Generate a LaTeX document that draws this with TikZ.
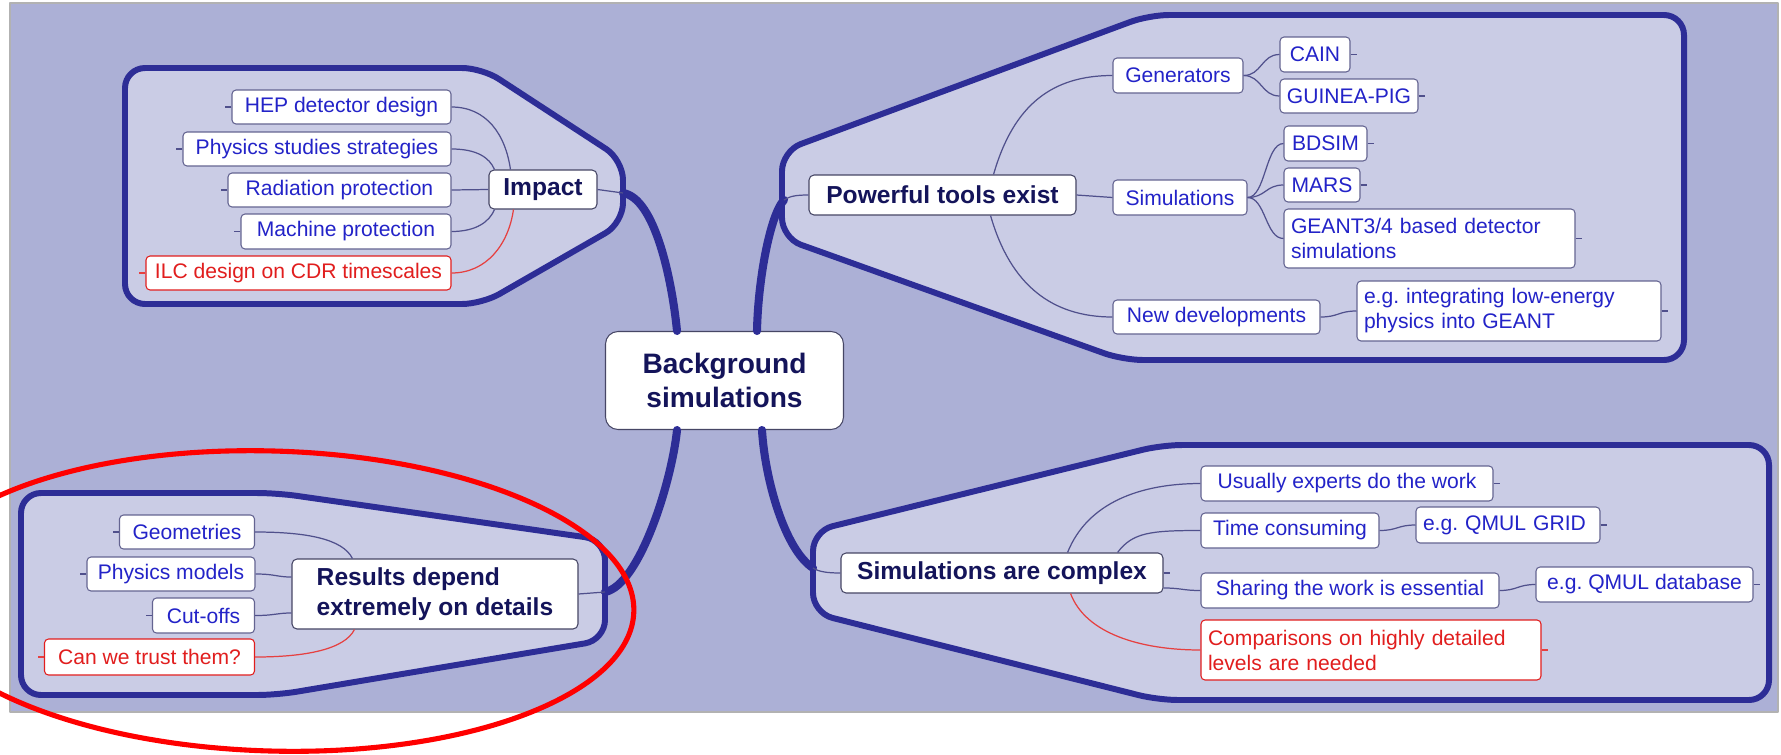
\documentclass[tikz,border=0pt]{standalone}
\usepackage{fontspec}
\setmainfont{Liberation Sans}
\usepackage{xcolor}
\usepackage{tikz}
\frenchspacing
\definecolor{mapbg}{RGB}{172,176,214}
\definecolor{zonefill}{RGB}{202,204,229}
\definecolor{zoneline}{RGB}{45,45,150}
\definecolor{topicink}{RGB}{20,20,90}
\definecolor{leafink}{RGB}{35,35,200}
\definecolor{boxline}{RGB}{100,100,145}
\definecolor{twigline}{RGB}{80,80,140}
\definecolor{alertred}{RGB}{225,30,30}
\tikzset{
    sz/.style 2 args = {minimum width=#1*0.02cm, minimum height=#2*0.02cm},
    wide/.style 2 args = {inner xsep=0.14cm, text width=#1*0.02cm-0.28cm, minimum height=#2*0.02cm},
    mapnode/.style = {rectangle, draw=boxline, fill=white, line width=0.6pt, inner xsep=3pt, inner ysep=2pt},
    leafnode/.style = {mapnode, text=leafink, font=\fontsize{12}{14.2}\selectfont, rounded corners=0.08cm, align=left},
    leafnoder/.style = {leafnode, draw=alertred, text=alertred},
    topicnode/.style = {mapnode, draw=boxline!70!black, text=topicink, font=\fontsize{14}{17}\selectfont\bfseries, rounded corners=0.1cm, align=left},
    hubnode/.style = {mapnode, draw=boxline!70!black, text=topicink, font=\fontsize{16}{19.3}\selectfont\bfseries, rounded corners=0.25cm, align=center},
}

\begin{document}
\begin{tikzpicture}[
	x=0.02cm, y=-0.02cm,
	line join=round
]
\tikzset{
    twign/.style = {draw=twigline, line width=0.7pt},
    twigr/.style = {draw=alertred!85, line width=0.7pt},
    limb/.style = {draw=zoneline, line width=4.6pt, line cap=round},
    zone/.style = {fill=zonefill, draw=zoneline, line width=3.4pt, rounded corners=0.4cm},
    redring/.style = {draw=red, line width=2.9pt}
}
\useasboundingbox (0,0) rectangle (1781,754);
\fill[white] (0,0) rectangle (1781,754);
\filldraw[fill=mapbg, draw=gray!60, line width=0.6pt] (10,3) rectangle (1778,712);
%
\path[zone] (125,68) -- (482,68) -- (623,160) -- (623,223) -- (482,304) -- (125,304) -- cycle;
\path[zone] (782,151) -- (1149,15) -- (1684,15) -- (1684,360) -- (1123,360) -- (782,238) -- cycle;
\path[zone] (21,493) -- (277,493) -- (605,540) -- (605,640) -- (277,695) -- (21,695) -- cycle;
\path[zone] (813,531) -- (1162,445) -- (1769,445) -- (1769,700) -- (1158,700) -- (813,613) -- cycle;
%
\node[hubnode, sz={238}{98}] at (724.5,380.5) (ctr) {Background\\simulations};
%
\node[topicnode, sz={108}{39}] at (543,189.5) (impact) {Impact};
\node[leafnode, sz={219}{34}] at (341.5,107) (hep) {HEP detector design};
\node[leafnode, sz={268}{34}] at (317,149) (phys) {Physics studies strategies};
\node[leafnode, sz={223}{34}] at (339.5,190) (rad) {Radiation protection};
\node[leafnode, sz={210}{35}] at (346,231.5) (mach) {Machine protection};
\node[leafnoder, sz={305}{34}] at (298.5,273) (ilc) {ILC design on CDR timescales};
%
\node[topicnode, sz={286}{70}] at (435,594) (res) {Results depend\\extremely on details};
\node[leafnode, sz={135}{34}] at (187,532) (geo) {Geometries};
\node[leafnode, sz={168}{34}] at (171,574) (pmod) {Physics models};
\node[leafnode, sz={102}{35}] at (203.5,615.5) (cut) {Cut-offs};
\node[leafnoder, sz={210}{36}] at (149.5,657) (trust) {Can we trust them?};
%
\node[topicnode, sz={267}{40}] at (942.5,195) (pow) {Powerful tools exist};
\node[leafnode, sz={130}{35}] at (1178,75.5) (gen) {Generators};
\node[leafnode, sz={134}{35}] at (1180,197.5) (sims) {Simulations};
\node[leafnode, sz={207}{34}] at (1216.5,317) (newdev) {New developments};
\node[leafnode, sz={70}{35}] at (1315,54.5) (cain) {CAIN};
\node[leafnode, sz={138}{34}] at (1349,96) (guinea) {GUINEA-PIG};
\node[leafnode, sz={83}{35}] at (1325.5,143.5) (bdsim) {BDSIM};
\node[leafnode, sz={76}{34}] at (1322,185) (mars) {MARS};
\node[leafnode, wide={291}{59}] at (1429.5,238.5) (geant) {GEANT3/4 based detector\\simulations};
\node[leafnode, wide={304}{60}] at (1509,311) (integ) {e.g. integrating low-energy\\physics into GEANT};
%
\node[topicnode, sz={322}{40}] at (1002,573) (sc) {Simulations are complex};
\node[leafnode, sz={292}{35}] at (1347,483.5) (usual) {Usually experts do the work};
\node[leafnode, sz={178}{35}] at (1290,530.5) (time) {Time consuming};
\node[leafnode, sz={298}{35}] at (1350,590.5) (share) {Sharing the work is essential};
\node[leafnoder, wide={340}{60}] at (1371,650) (comp) {Comparisons on highly detailed\\levels are needed};
\node[leafnode, wide={184}{36}] at (1508,525) (qgrid) {e.g. QMUL GRID};
\node[leafnode, sz={217}{35}] at (1644.5,584.5) (qdb) {e.g. QMUL database};
%
\coordinate (kimp) at (623,193);
\coordinate (kpow) at (784,200);
\coordinate (kres) at (605,592);
\coordinate (ksc) at (813,568);
%
\draw[limb] (kimp) .. controls (655,198) and (672,280) .. ([xshift=-0.95cm]ctr.north);
\draw[limb] (kpow) .. controls (770,215) and (758,280) .. ([xshift=0.65cm]ctr.north);
\draw[limb] (kres) .. controls (640,585) and (672,480) .. ([xshift=-0.95cm]ctr.south);
\draw[limb] (ksc) .. controls (785,550) and (765,480) .. ([xshift=0.75cm]ctr.south);
%
\draw[twign] (impact.east) -- (kimp);
\draw[twign] (pow.west) .. controls +(-12,0) and +(6,-4) .. (kpow);
\draw[twign] (res.east) -- (kres);
\draw[twign] (sc.west) .. controls +(-12,0) and +(6,4) .. (ksc);
%
\draw[twign] (hep.east) .. controls +(35,0) and +(-5,-35) .. ([xshift=0.44cm]impact.north west);
\draw[twign] (phys.east) .. controls +(25,0) and +(-5,-12) .. ([xshift=0.12cm]impact.north west);
\draw[twign] (rad.east) -- (impact.west);
\draw[twign] (mach.east) .. controls +(25,0) and +(-5,12) .. ([xshift=0.12cm]impact.south west);
\draw[twigr] (ilc.east) .. controls +(35,0) and +(-5,35) .. ([xshift=0.5cm]impact.south west);
%
\draw[twign] (geo.east) .. controls +(50,0) and +(-10,-20) .. ([xshift=1.22cm]res.north west);
\draw[twign] (pmod.east) .. controls +(20,0) and +(-15,0) .. ([yshift=0.34cm]res.west);
\draw[twign] (cut.east) .. controls +(20,0) and +(-15,0) .. ([yshift=-0.38cm]res.west);
\draw[twigr] (trust.east) .. controls +(50,0) and +(-10,20) .. ([xshift=1.26cm]res.south west);
%
\draw[twign] ([xshift=-1.66cm]pow.north east) .. controls +(20,-70) and +(-60,0) .. (gen.west);
\draw[twign] (pow.east) -- (sims.west);
\draw[twign] ([xshift=-1.72cm]pow.south east) .. controls +(20,70) and +(-60,0) .. (newdev.west);
\foreach \n in {cain,guinea}
    \draw[twign] (gen.east) .. controls +(18,0) and +(-18,0) .. (\n.west);
\foreach \n in {bdsim,mars,geant}
    \draw[twign] (sims.east) .. controls +(18,0) and +(-18,0) .. (\n.west);
\draw[twign] (newdev.east) .. controls +(18,0) and +(-18,0) .. (integ.west);
%
\draw[twign] ([xshift=-1.92cm]sc.north east) .. controls +(20,-50) and +(-60,0) .. (usual.west);
\draw[twign] ([xshift=-0.92cm]sc.north east) .. controls +(15,-20) and +(-50,0) .. (time.west);
\draw[twign] ([yshift=-0.3cm]sc.east) .. controls +(18,0) and +(-18,0) .. (share.west);
\draw[twigr] ([xshift=-1.86cm]sc.south east) .. controls +(15,40) and +(-60,0) .. (comp.west);
\draw[twign] (time.east) .. controls +(18,0) and +(-18,0) .. (qgrid.west);
\draw[twign] (share.east) .. controls +(18,0) and +(-18,0) .. (qdb.west);
%
\foreach \n in {hep,phys,rad,mach,geo,pmod,cut}
    \draw[twign] (\n.west) -- +(-6,0);
\foreach \n in {ilc,trust}
    \draw[twigr] (\n.west) -- +(-6,0);
\foreach \n in {cain,guinea,bdsim,mars,geant,integ,usual,qgrid,qdb,sc}
    \draw[twign] (\n.east) -- +(6,0);
\draw[twigr] (comp.east) -- +(6,0);
%
\draw[redring, rotate around={-1.7:(272,601)}] (272,601) ellipse [x radius=362, y radius=150];
\end{tikzpicture}
\end{document}
